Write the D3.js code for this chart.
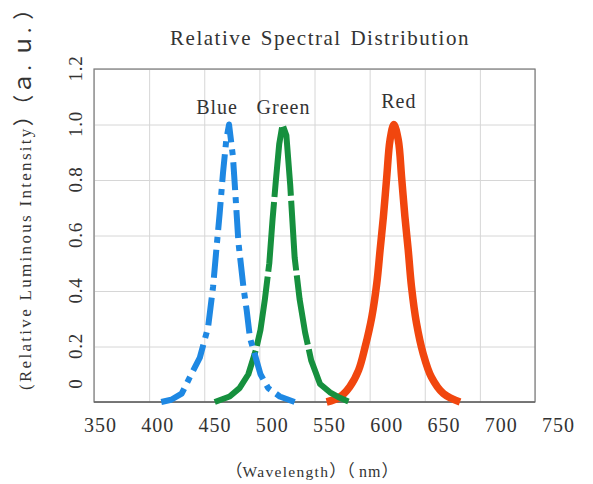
<!DOCTYPE html>
<meta charset="utf-8">
<style>
body{margin:0;background:#fff;}
text{font-family:"Liberation Serif","Times New Roman","Noto Sans CJK SC",serif;fill:#333;}
</style>
<body>
<div id="chart"></div>
<script src="https://d3js.org/d3.v7.min.js"></script>
<script>
// tick values
var xTicks = [350, 400, 450, 500, 550, 600, 650, 700, 750];
var yTicks = [0, 0.2, 0.4, 0.6, 0.8, 1.0, 1.2];

// series (wavelength nm, relative intensity)
var blueWave = [411, 420, 429.5, 437, 446, 453.5, 458, 461, 464, 467, 470, 472.5, 476, 478, 481, 485.5, 488.5, 491.5, 496, 501, 508, 518.5, 532];
var blueRel  = [0, 0.008, 0.03, 0.09, 0.16, 0.27, 0.415, 0.55, 0.68, 0.825, 0.945, 1.0, 0.885, 0.765, 0.575, 0.415, 0.33, 0.23, 0.17, 0.1, 0.05, 0.02, 0];

var greenWave = [459.5, 473, 482, 490, 497, 501, 505, 509, 512, 515, 518, 521, 524.5, 528, 532, 536.5, 541.5, 547, 555, 564, 573, 582];
var greenRel  = [0, 0.02, 0.05, 0.1, 0.19, 0.26, 0.37, 0.5, 0.66, 0.8, 0.93, 1.0, 0.96, 0.78, 0.52, 0.37, 0.25, 0.15, 0.065, 0.035, 0.015, 0];

var redWave = [561, 573, 582, 590, 596, 602, 606.5, 609.5, 612.5, 615.5, 618.5, 622, 626, 629, 632, 635, 638, 642.5, 648.5, 656, 667, 682];
var redRel  = [0, 0.018, 0.055, 0.115, 0.2, 0.307, 0.428, 0.548, 0.668, 0.81, 0.944, 1.0, 0.944, 0.81, 0.668, 0.548, 0.415, 0.284, 0.175, 0.09, 0.03, 0];

var seriesNames = ["Red", "Green", "Blue"];

var W = 593, H = 484;
var box = {left: 94, right: 535, top: 69, bottom: 402};

var x = d3.scaleLinear().domain([350, 750]).range([box.left, box.right]);
// tick labels in the picture sit a little off the grid lines
var xLab = d3.scaleLinear().domain([350, 750]).range([100, 558]);
var y = d3.scaleLinear().domain([0, 1.2]).range([box.bottom, box.top]);

var svg = d3.select("#chart").append("svg").attr("width", W).attr("height", H);

// grid
svg.append("g").attr("transform", "translate(0," + box.bottom + ")")
  .call(d3.axisBottom(x).tickValues(xTicks).tickSize(-(box.bottom - box.top)).tickFormat(""))
  .call(g => g.select(".domain").remove())
  .selectAll("line").attr("stroke", "#d6d6d6");
svg.append("g").attr("transform", "translate(" + box.left + ",0)")
  .call(d3.axisLeft(y).tickValues(yTicks).tickSize(-(box.right - box.left)).tickFormat(""))
  .call(g => g.select(".domain").remove())
  .selectAll("line").attr("stroke", "#d6d6d6");

// frame
svg.append("rect")
  .attr("x", box.left).attr("y", box.top)
  .attr("width", box.right - box.left).attr("height", box.bottom - box.top)
  .attr("fill", "none").attr("stroke", "#7a7a7a").attr("stroke-width", 1.2);
svg.append("line")
  .attr("x1", box.left).attr("x2", box.right)
  .attr("y1", box.bottom).attr("y2", box.bottom)
  .attr("stroke", "#666").attr("stroke-width", 1.5);

// x tick labels
var xa = svg.append("g").attr("transform", "translate(0,432)")
  .call(d3.axisBottom(xLab).tickValues(xTicks).tickSize(0).tickPadding(0))
  .call(g => g.select(".domain").remove());
xa.selectAll("text").attr("dy", 0).attr("font-size", 20).attr("letter-spacing", 1);

// y tick labels (rotated)
var ya = svg.append("g").attr("transform", "translate(" + box.left + ",0)")
  .call(d3.axisLeft(y).tickValues(yTicks).tickSize(0)
    .tickFormat(d => d === 0 ? "0" : d3.format(".1f")(d)))
  .call(g => g.select(".domain").remove());
ya.selectAll("text")
  .attr("x", null).attr("dy", null)
  .attr("text-anchor", "middle")
  .attr("font-size", 19).attr("letter-spacing", 0.8)
  .attr("transform", d => "translate(-12," + (d === 0 ? -19 : -1) + ") rotate(-90)");

// curves
var line = d3.line().x(d => x(d[0])).y(d => y(d[1]));
var series = {
  Blue:  {wave: blueWave, rel: blueRel, color: "#1E88E3", width: 6, dash: "28,7,6,7", curve: d3.curveLinear, dx: -12, dy: -11},
  Green: {wave: greenWave, rel: greenRel, color: "#16903E", width: 6, dash: "70,5", curve: d3.curveLinear, dx: 1, dy: -11},
  Red:   {wave: redWave, rel: redRel, color: "#F1460E", width: 7.5, dash: null, curve: d3.curveCatmullRom.alpha(0.5), dx: 5, dy: -17}
};

seriesNames.forEach(function(name) {
  var s = series[name];
  var pts = s.wave.map((w, i) => [w, s.rel[i]]);
  svg.append("path")
    .attr("d", line.curve(s.curve)(pts))
    .attr("fill", "none")
    .attr("stroke", s.color)
    .attr("stroke-width", s.width)
    .attr("stroke-linejoin", "round")
    .attr("stroke-dasharray", s.dash);
  var peak = pts.reduce((a, b) => b[1] > a[1] ? b : a);
  svg.append("text")
    .attr("x", x(peak[0]) + s.dx).attr("y", y(peak[1]) + s.dy)
    .attr("text-anchor", "middle")
    .attr("font-size", 20).attr("letter-spacing", 1)
    .text(name);
});

// title
svg.append("text")
  .attr("x", 320).attr("y", 45)
  .attr("text-anchor", "middle")
  .attr("font-size", 21).attr("letter-spacing", 1.5).attr("word-spacing", 2)
  .text("Relative Spectral Distribution");

// x axis title
var xt = svg.append("text")
  .attr("x", 312).attr("y", 477)
  .attr("text-anchor", "middle");
xt.append("tspan").attr("font-size", 17).text("（");
xt.append("tspan").attr("font-size", 15.5).attr("letter-spacing", 1.3).text("Wavelength");
xt.append("tspan").attr("font-size", 17).text("）（ ");
xt.append("tspan").attr("font-size", 16).attr("letter-spacing", 1).text("nm");
xt.append("tspan").attr("font-size", 17).text("）");

// y axis title (rotated)
var yt = svg.append("text")
  .attr("transform", "translate(31,390) rotate(-90)")
  .attr("text-anchor", "start");
yt.append("tspan").attr("font-size", 17).attr("letter-spacing", 2.3).text("(Relative Luminous Intensity");
yt.append("tspan").attr("font-size", 21).text("）（");
yt.append("tspan").attr("font-size", 23).attr("letter-spacing", 1).text("ａ. ｕ. ");
yt.append("tspan").attr("font-size", 21).text("）");
</script>
</body>
